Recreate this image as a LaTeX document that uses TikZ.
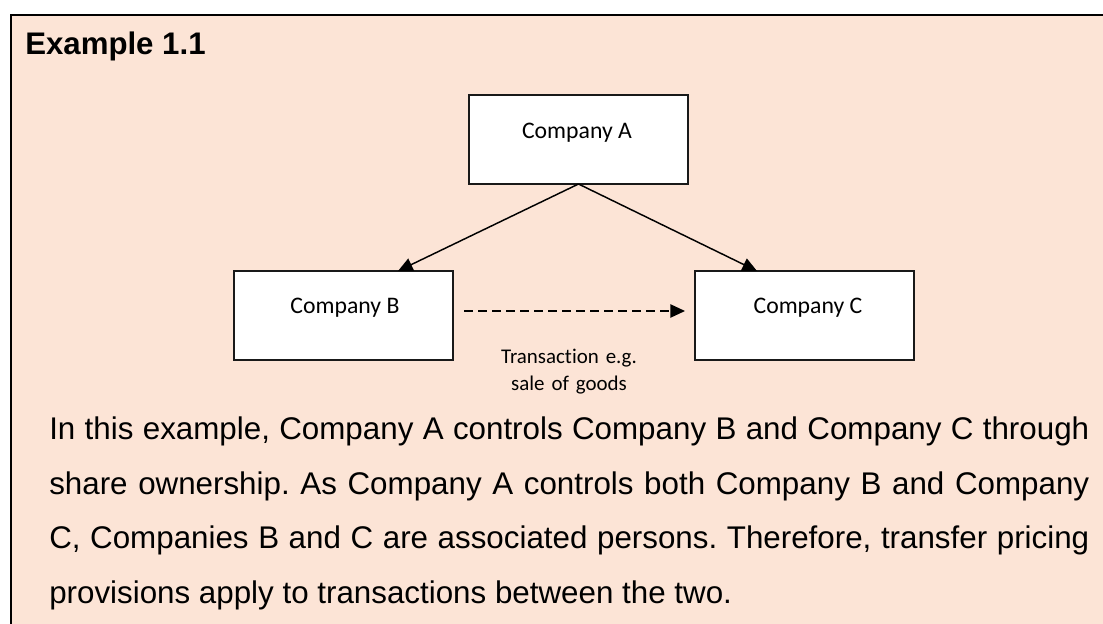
\documentclass[tikz,border=0pt]{standalone}
\usepackage{fontspec}
\setmainfont{Liberation Sans}
\newfontfamily\calib[Ligatures={NoCommon,NoRequired,NoContextual}]{Carlito}
\usetikzlibrary{arrows.meta,calc}
\definecolor{bgpeach}{RGB}{252,228,214}
\frenchspacing
\begin{document}
\begin{tikzpicture}[x=0.75pt,y=-0.75pt,
  boxnode/.style={draw=black!90, line width=1pt, fill=white, minimum width=164.25pt, minimum height=66.75pt, inner sep=0pt, outer sep=0pt},
  boxtext/.style={font=\calib\fontsize{17.8pt}{21pt}\selectfont, inner sep=0pt, anchor=base},
  smalltext/.style={font=\calib\fontsize{15.7pt}{20.25pt}\selectfont, inner sep=0pt, anchor=base, text width=150pt, align=center},
  bodyline/.style={font=\fontsize{23.5pt}{41pt}\selectfont, inner sep=0pt, anchor=base west},
  titletext/.style={font=\bfseries\fontsize{23.4pt}{28pt}\selectfont, inner sep=0pt, anchor=base west},
  conn/.style={line width=1.1pt, -{Triangle[length=11pt,width=10pt]}},
  dconn/.style={conn, dash pattern=on 6.5pt off 4pt}]
\useasboundingbox (0,0) rectangle (1103,624);
% frame
\fill[bgpeach] (11,15) rectangle (1103,624);
\draw[line width=1.6pt] (11,624) -- (11,15) -- (1103,15);
% title
\node[titletext] (title) at (25,55) {Example 1.1};
% boxes
\node[boxnode] (A) at (578.5,139.5) {};
\node[boxnode] (B) at (343.5,315.5) {};
\node[boxnode] (C) at (804.5,315.5) {};
\node[boxtext] (At) at (577,138.3) {Company A};
\node[boxtext] (Bt) at (345,313.3) {Company B};
\node[boxtext] (Ct) at (808,313.3) {Company C};
% connectors
\draw[conn] (A.south) -- ($(B.north)+(54.5,0)$);
\draw[conn] (A.south) -- ($(C.north)+(-47.5,0)$);
\draw[dconn] ($(B.east)+(11,-4.5)$) -- ($(C.west)+(-10,-4.5)$);
\node[smalltext] (lbl) at (569,363.3) {Transaction e.g.\\sale of goods};
% body text
\node[bodyline] (l1) at (49,439.3) {\makebox[780pt][s]{In this example, Company A controls Company B and Company C through}};
\node[bodyline] (l2) at (49,494) {\makebox[780pt][s]{share ownership. As Company A controls both Company B and Company}};
\node[bodyline] (l3) at (49,548.7) {\makebox[780pt][s]{C, Companies B and C are associated persons. Therefore, transfer pricing}};
\node[bodyline] (l4) at (49,603.3) {provisions apply to transactions between the two.};
\end{tikzpicture}
\end{document}
